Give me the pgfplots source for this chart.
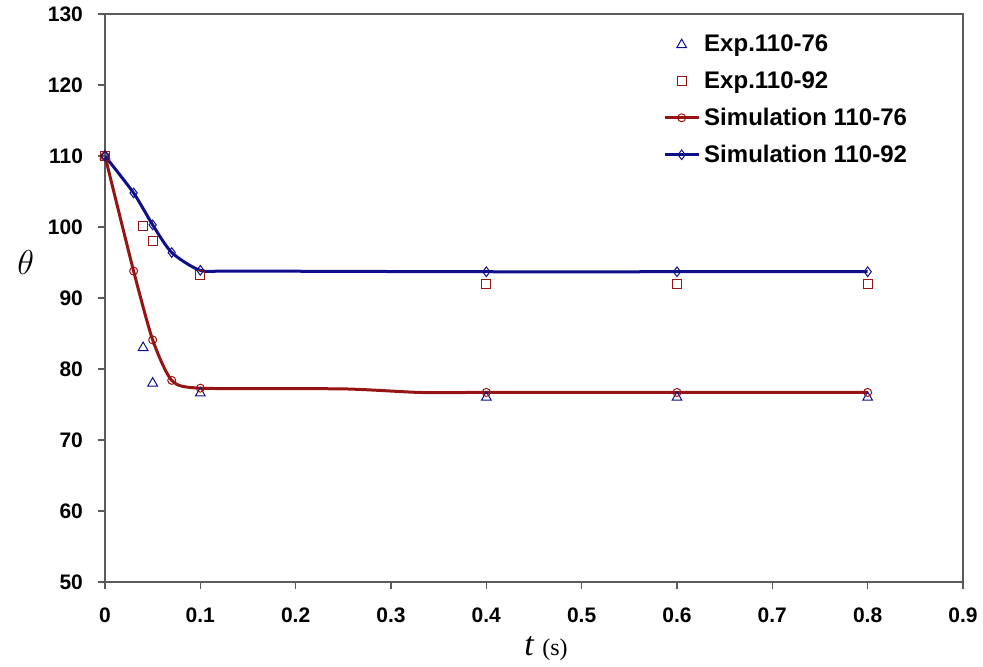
\documentclass[border=0pt]{standalone}
\usepackage{pgfplots}
\pgfplotsset{compat=1.18}
\usepackage{fontspec}
\setmainfont{Liberation Sans}
\newfontfamily\seriffont{Liberation Serif}
\definecolor{simred}{RGB}{150,20,20}
\definecolor{simblue}{RGB}{15,15,140}
\definecolor{axgray}{RGB}{90,90,90}
\begin{document}
\begin{tikzpicture}
\begin{axis}[
    at={(0,0)}, anchor=south west,
    scale only axis,
    width=429pt, height=284pt,
    xmin=0, xmax=0.9, ymin=50, ymax=130,
    xtick={0,0.1,...,0.9},
    ytick={50,60,...,130},
    xticklabel style={/pgf/number format/fixed, /pgf/number format/precision=1},
    /pgf/number format/assume math mode=true,
    ticklabel style={font=\fontsize{10.5}{12}\selectfont\bfseries},
    axis line style={axgray, line width=0.8pt},
    tick style={axgray, line width=0.7pt},
    tick align=outside,
    xtick pos=bottom, ytick pos=left,
    major tick length=3.5pt,
    xticklabel shift=6pt,
    yticklabel shift=4pt,
    xlabel={\seriffont\fontsize{17}{18}\selectfont\itshape t\ \upshape\fontsize{12}{14}\selectfont(s)},
    xlabel style={yshift=0pt, xshift=6pt},
    ylabel={\seriffont\fontsize{18}{20}\selectfont\itshape $\theta$},
    ylabel style={rotate=-90, yshift=18pt},
    legend style={draw=none, fill=none, at={(0.643,0.978)}, anchor=north west,
        font=\fontsize{12}{13}\selectfont\bfseries, row sep=4.3pt,
        /tikz/every even column/.append style={column sep=2pt}},
    legend cell align=left,
]
\addplot[only marks, mark=triangle, mark size=2.8pt, simblue, mark options={line width=0.5pt}]
    coordinates {(0,110) (0.04,83.0) (0.05,78.0) (0.1,76.6) (0.4,76.0) (0.6,76.0) (0.8,76.0)};
\addlegendentry{Exp.110-76}
\addplot[only marks, mark=square, mark size=2.3pt, simred, mark options={line width=0.5pt}]
    coordinates {(0,110) (0.04,100.1) (0.05,98.0) (0.1,93.2) (0.4,92.0) (0.6,92.0) (0.8,92.0)};
\addlegendentry{Exp.110-92}
\addplot[simred, line width=1.5pt, smooth, tension=0.4, mark=o, mark size=2pt,
    mark options={line width=0.5pt, fill=none},
    mark indices={1,2,3,4,5,8,9,10},
    legend image post style={mark indices={2}}]
    coordinates {(0,110) (0.03,93.8) (0.05,84.1) (0.07,78.4) (0.1,77.3)
                 (0.25,77.2) (0.33,76.7) (0.4,76.7) (0.6,76.7) (0.8,76.7)};
\addlegendentry{Simulation 110-76}
\addplot[simblue, line width=1.5pt, smooth, tension=0.4, mark=diamond, mark size=2.4pt,
    mark options={line width=0.5pt, fill=none},
    mark indices={1,2,3,4,5,7,8,9},
    legend image post style={mark indices={2}}]
    coordinates {(0,110) (0.03,104.8) (0.05,100.3) (0.07,96.4) (0.1,93.9)
                 (0.14,93.8) (0.4,93.7) (0.6,93.7) (0.8,93.7)};
\addlegendentry{Simulation 110-92}
\end{axis}
\pgfresetboundingbox
\path[use as bounding box] (-52.5pt,-42pt) rectangle (439pt,291pt);
\end{tikzpicture}
\end{document}
